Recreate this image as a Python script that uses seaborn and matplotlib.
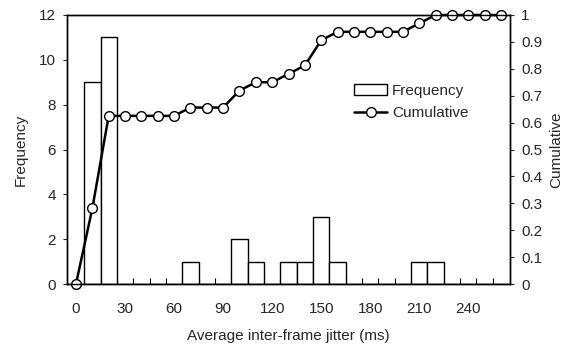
import matplotlib
matplotlib.use("Agg")
import matplotlib.pyplot as plt
import numpy as np
import pandas as pd
import seaborn as sns
from matplotlib.patches import Rectangle
from matplotlib.lines import Line2D
from matplotlib.ticker import FixedLocator, FuncFormatter

# Histogram bins (ms) and counts
bins = [0, 10, 20, 30, 40, 50, 60, 70, 80, 90, 100, 110, 120, 130,
        140, 150, 160, 170, 180, 190, 200, 210, 220, 230, 240, 250, 260]
frequency = [0, 9, 11, 0, 0, 0, 0, 1, 0, 0, 2, 1, 0, 1,
             1, 3, 1, 0, 0, 0, 0, 1, 1, 0, 0, 0, 0]
cumulative = [0.0, 0.281, 0.625, 0.625, 0.625, 0.625, 0.625, 0.656, 0.656, 0.656,
              0.719, 0.75, 0.75, 0.781, 0.8125, 0.906, 0.9375, 0.9375, 0.9375,
              0.9375, 0.9375, 0.969, 1.0, 1.0, 1.0, 1.0, 1.0]
x_labels = [0, 30, 60, 90, 120, 150, 180, 210, 240]

df = pd.DataFrame({"bin": bins, "freq": frequency, "cum": cumulative})

sns.set_style("white")
plt.rcParams["font.family"] = ["Liberation Sans", "DejaVu Sans"]
plt.rcParams["font.size"] = 11

fig = plt.figure(figsize=(5.72, 3.5), dpi=100)
ax = fig.add_axes([67 / 572, 1 - 284 / 350, (510 - 67) / 572, (284 - 15) / 350])

sns.barplot(data=df, x="bin", y="freq", native_scale=True, width=1.0,
            color="white", edgecolor="black", linewidth=1.0, ax=ax)
ax.set_xlim(-5.5, 265.5)
ax.set_ylim(0, 12)
ax.set_yticks(range(0, 13, 2))
ax.set_xticks(x_labels)
ax.xaxis.set_minor_locator(FixedLocator(np.arange(5, 265, 10)))
ax.tick_params(axis="x", which="major", bottom=True, length=0, pad=13)
ax.tick_params(axis="x", which="minor", bottom=True, direction="in", length=4,
               width=0.8, color="black")
ax.tick_params(axis="y", direction="out", length=3, width=0.8, left=True, pad=5)
ax.set_xlabel("Average inter-frame jitter (ms)", labelpad=9)
ax.set_ylabel("Frequency", labelpad=8)
for s in ax.spines.values():
    s.set_color("black")
    s.set_linewidth(1.0)

ax2 = ax.twinx()
sns.lineplot(data=df, x="bin", y="cum", ax=ax2, color="black", linewidth=1.8,
             marker="o", markersize=7, markerfacecolor="white",
             markeredgecolor="black", markeredgewidth=1.0, clip_on=False)
ax2.set_ylim(0, 1)
ax2.set_yticks(np.arange(0, 1.01, 0.1))
ax2.yaxis.set_major_formatter(FuncFormatter(lambda v, p: f"{v:g}"))
ax2.tick_params(axis="y", direction="out", length=3, width=0.8, right=True, pad=5)
ax2.set_ylabel("Cumulative", labelpad=5)
for s in ax2.spines.values():
    s.set_color("black")
    s.set_linewidth(1.0)

handles = [Rectangle((0, 0), 1, 1, facecolor="white", edgecolor="black", linewidth=1.0),
           Line2D([0], [0], color="black", linewidth=1.8, marker="o", markersize=7,
                  markerfacecolor="white", markeredgecolor="black")]
fig.legend(handles, ["Frequency", "Cumulative"], loc="upper left",
           bbox_to_anchor=(340 / 572, 1 - 70 / 350), frameon=False,
           handlelength=2.2, handletextpad=0.3, labelspacing=0.55)

fig.savefig("out.png", dpi=100)
